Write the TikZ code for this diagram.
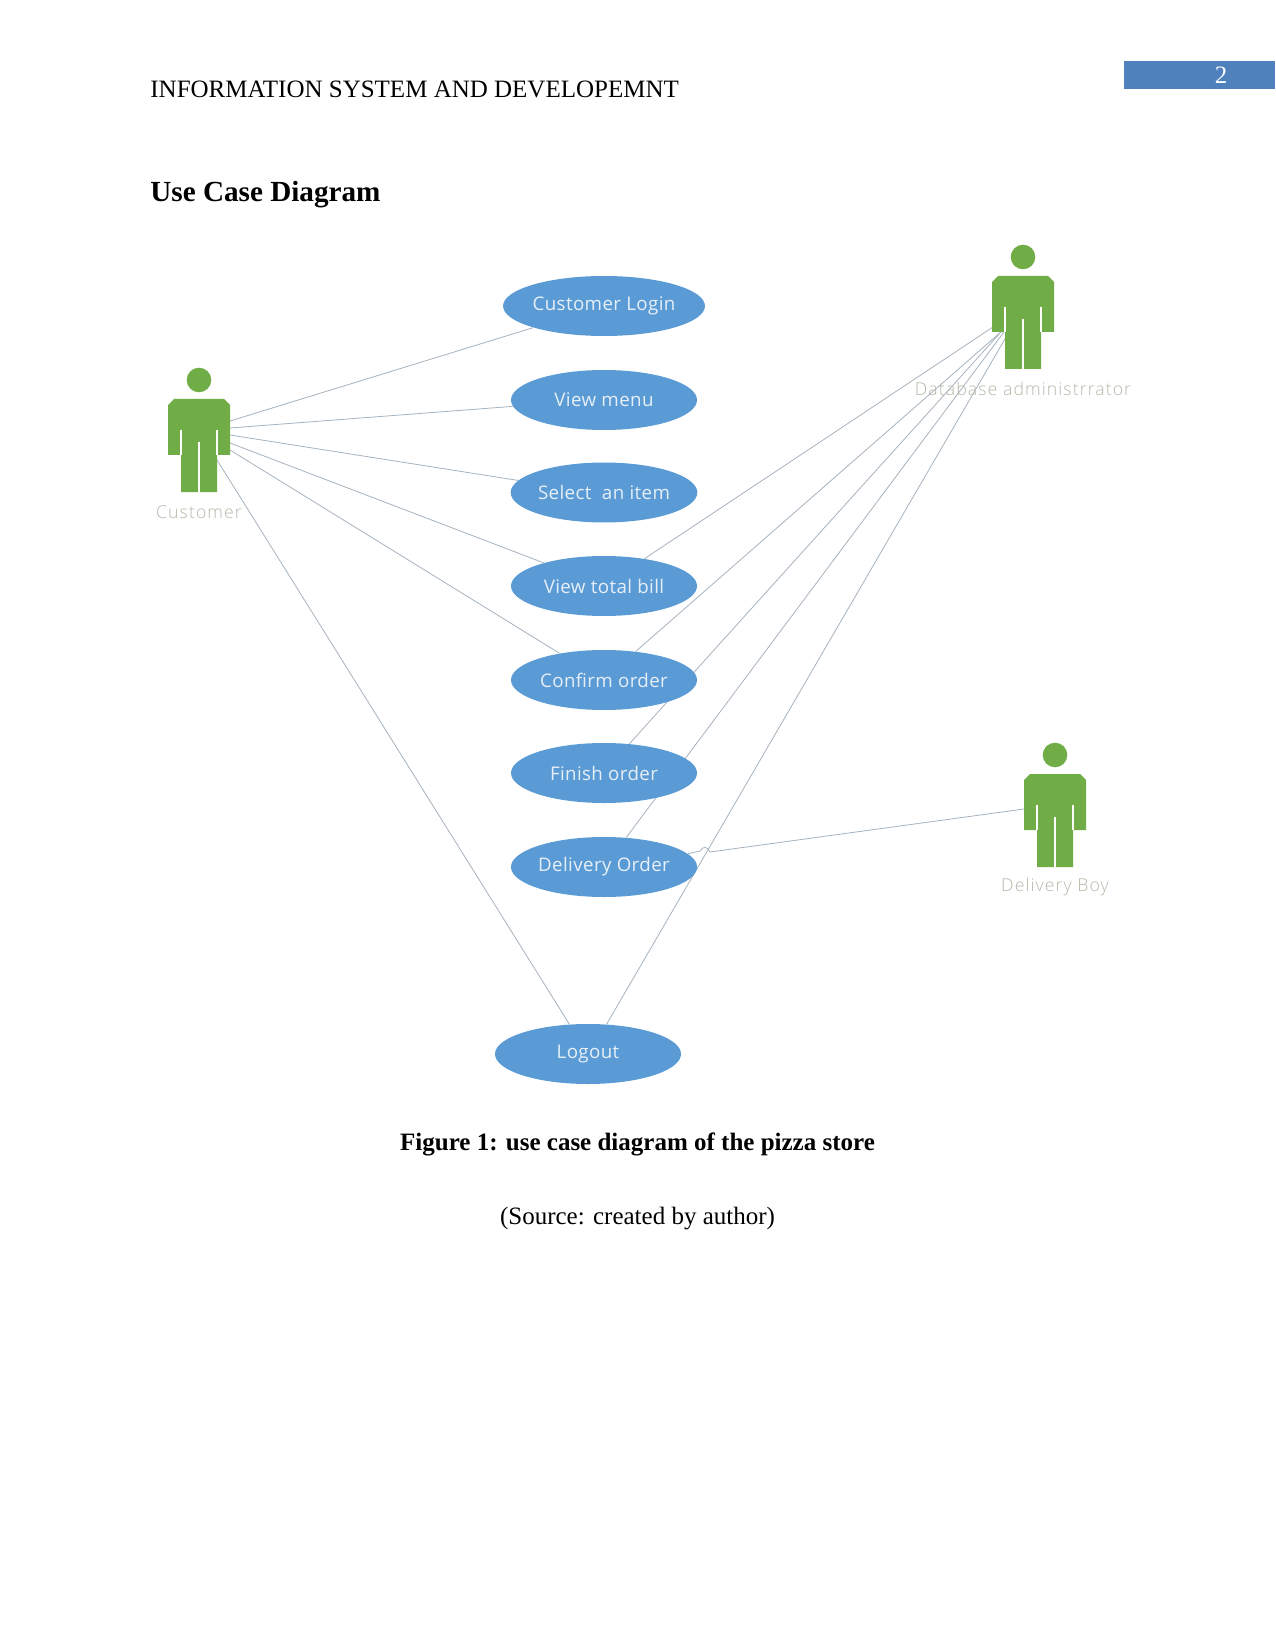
\documentclass[tikz,border=0pt]{standalone}
\usepackage{fontspec}
\setmainfont{Liberation Serif}
\newfontfamily\casefont[LetterSpace=2]{Open Sans}
\newfontfamily\actorfont[LetterSpace=6]{Open Sans Light}
\usetikzlibrary{shapes.geometric,backgrounds}
\definecolor{casefill}{HTML}{5B9BD5}
\definecolor{casetext}{HTML}{E6EFF8}
\definecolor{actorgreen}{HTML}{70AD47}
\definecolor{actortext}{HTML}{B4BAA8}
\definecolor{linkgray}{HTML}{A8B4C0}
\definecolor{pageband}{HTML}{4F81BD}
\tikzset{
  usecase/.style={ellipse,fill=casefill,text=casetext,minimum width=89.3pt,minimum height=28.8pt,inner sep=0pt,font=\casefont\fontsize{9}{11}\selectfont},
  actorframe/.style={rectangle,minimum width=29.8pt,minimum height=44.6pt,inner sep=0pt},
  actorlabel/.style={text=actortext,inner sep=0pt,font=\actorfont\fontsize{8.5}{10}\selectfont},
  link/.style={draw=linkgray,line width=0.4pt},
  headline/.style={anchor=base west,inner sep=0pt,font=\fontsize{12}{14}\selectfont},
}
% Stick figure: head, torso with arms, two legs, caption underneath
\newcommand{\stickfigure}[4]{%
  \begin{scope}[shift={(#2,#3)}]
    \fill[actorgreen] (0,0) circle (5.9pt);
    \fill[actorgreen] (-31,25) -- (-25,19) -- (25,19) -- (31,25) -- (31,75) -- (18,75)
      -- (18,112) -- (-18,112) -- (-18,75) -- (-31,75) -- cycle;
    \draw[white,line width=0.5pt] (-18,50) -- (-18,75) (18,50) -- (18,75) (0,62) -- (0,112);
    \node[actorframe] (#1) at (0,56) {};
    \node[actorlabel] (#1-label) at (0,132) {#4};
  \end{scope}}
\begin{document}
\begin{tikzpicture}[x=0.48pt,y=-0.48pt]
  \useasboundingbox (0,0) rectangle (1275,1650);

  % Page furniture
  \fill[pageband] (1124,61) rectangle (1275,89);
  \node[text=white,inner sep=0pt,font=\fontsize{12}{14}\selectfont] (pageno) at (1221,75) {2};
  \node[headline] (runninghead) at (150,98) {INFORMATION SYSTEM AND DEVELOPEMNT};
  \node[headline,font=\bfseries\fontsize{14}{17}\selectfont] (title) at (150,202) {Use Case Diagram};
  \node[inner sep=0pt,font=\bfseries\fontsize{12}{14}\selectfont] (caption) at (637.5,1144) {Figure 1: use case diagram of the pizza store};
  \node[inner sep=0pt,font=\fontsize{12}{14}\selectfont] (source) at (637.5,1219) {(Source: created by author)};

  % Use cases
  \node[usecase] (login)    at (604,306)  {Customer Login};
  \node[usecase] (menu)     at (604,400)  {View menu};
  \node[usecase] (select)   at (604,492.5){Select\ \ an item};
  \node[usecase] (bill)     at (604,586)  {View total bill};
  \node[usecase] (confirm)  at (604,680)  {Confirm order};
  \node[usecase] (finish)   at (604,773)  {Finish order};
  \node[usecase] (delivery) at (604,867)  {Delivery Order};
  \node[usecase] (logout)   at (588,1054) {Logout};

  % Actors
  \stickfigure{customer}{199}{380}{Customer}
  \stickfigure{dba}{1023}{257}{Database administrrator}
  \stickfigure{boy}{1055}{755}{Delivery Boy}

  % Connector ends on the figures
  \coordinate (c1) at (230,421);
  \coordinate (c2) at (230,428);
  \coordinate (c3) at (230,435);
  \coordinate (c4) at (230,443);
  \coordinate (c5) at (230,450);
  \coordinate (c6) at (217,460);
  \coordinate (d1) at (993,327);
  \coordinate (d2) at (1002,331);
  \coordinate (d3) at (1001,332);
  \coordinate (d4) at (1004,332);
  \coordinate (d5) at (1009,332);
  \coordinate (b1) at (1024,809);
  \coordinate (jumpa) at (700,851);
  \coordinate (jumpb) at (710,852);

  \begin{scope}[on background layer]
    \draw[link] (c1) -- (login.197);
    \draw[link] (c2) -- (menu.184);
    \draw[link] (c3) -- (select.172);
    \draw[link] (c4) -- (bill.159);
    \draw[link] (c5) -- (confirm.149);
    \draw[link] (c6) -- (logout.122);
    \draw[link] (d1) -- (bill.34);
    \draw[link] (d2) -- (confirm.42);
    \draw[link] (d3) -- (finish.49);
    \draw[link] (d4) -- (delivery.53);
    \draw[link] (d5) -- (logout.58);
    % The delivery link hops over the logout link
    \draw[link] (delivery.9) -- (jumpa) .. controls (703,846) and (707,846) .. (jumpb) -- (b1);
  \end{scope}
\end{tikzpicture}
\end{document}
